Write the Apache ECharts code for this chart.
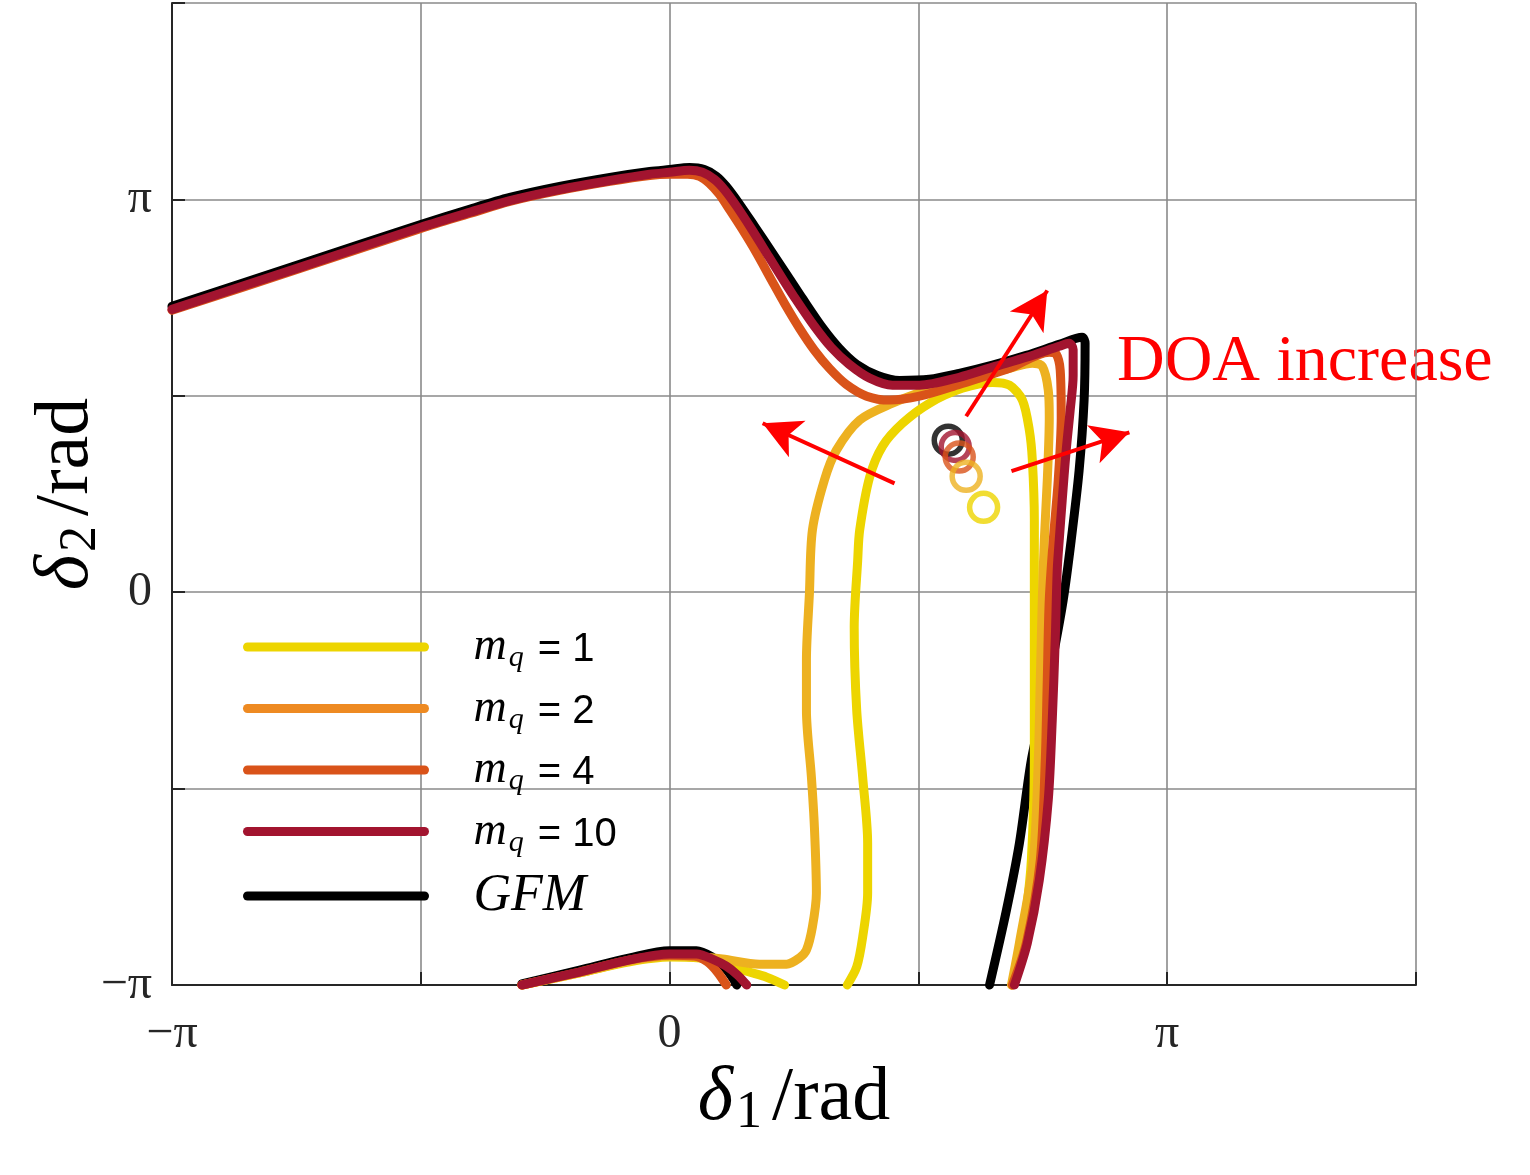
<!DOCTYPE html>
<html>
<head>
<meta charset="utf-8">
<script src="https://cdn.jsdelivr.net/npm/echarts@6/dist/echarts.min.js"></script>
<style>
html, body { margin: 0; padding: 0; background: #fff; }
#chart { width: 1530px; height: 1175px; }
</style>
</head>
<body>
<div id="chart"></div>
<script>
// all values in units of pi: [delta1/pi, delta2/pi]
var blackTop = [[-1.000,0.728],[-0.743,0.835],[-0.500,0.936],[-0.402,0.975],[-0.321,1.005],[-0.221,1.033],[-0.120,1.056],[-0.040,1.071],[0,1.076],[0.040,1.081],[0.070,1.076],[0.094,1.059],[0.114,1.033],[0.141,0.987],[0.171,0.931],[0.207,0.863],[0.239,0.802],[0.267,0.748],[0.307,0.674],[0.341,0.621],[0.376,0.580],[0.418,0.552],[0.462,0.539],[0.522,0.542],[0.582,0.557],[0.649,0.578],[0.717,0.603],[0.783,0.631],[0.829,0.649],[0.835,0.634],[0.833,0.489],[0.823,0.310],[0.807,0.132],[0.791,-0.020],[0.773,-0.148],[0.753,-0.275],[0.727,-0.427],[0.703,-0.639],[0.677,-0.809],[0.643,-1.000]];
var blackBottom = [[-0.297,-0.997],[-0.181,-0.962],[-0.080,-0.931],[0,-0.913],[0.054,-0.913],[0.086,-0.929],[0.108,-0.952],[0.124,-0.977],[0.135,-1.0]];

var yellowBottom = [[-0.297,-1.0],[-0.181,-0.969],[-0.080,-0.941],[0,-0.929],[0.060,-0.931],[0.106,-0.939],[0.147,-0.962],[0.195,-0.980],[0.231,-1.0]];
var yellowLoop = [[0.357,-1.0],[0.376,-0.954],[0.388,-0.878],[0.398,-0.766],[0.398,-0.639],[0.388,-0.471],[0.376,-0.300],[0.371,-0.089],[0.378,0.081],[0.382,0.158],[0.402,0.293],[0.428,0.372],[0.468,0.430],[0.522,0.481],[0.588,0.519],[0.649,0.534],[0.683,0.527],[0.709,0.489],[0.723,0.412],[0.729,0.336],[0.733,0.183],[0.733,-0.173],[0.733,-0.427],[0.727,-0.682],[0.717,-0.809],[0.703,-0.919],[0.689,-1.0]];

var orangeMain = [[-0.297,-1.0],[-0.181,-0.969],[-0.080,-0.939],[0,-0.926],[0.060,-0.929],[0.106,-0.934],[0.181,-0.947],[0.235,-0.947],[0.261,-0.931],[0.275,-0.911],[0.287,-0.852],[0.295,-0.766],[0.291,-0.598],[0.285,-0.471],[0.275,-0.300],[0.275,-0.173],[0.281,-0.003],[0.287,0.158],[0.311,0.285],[0.335,0.361],[0.382,0.438],[0.448,0.481],[0.516,0.514],[0.582,0.539],[0.683,0.570],[0.729,0.583],[0.749,0.575],[0.761,0.514],[0.763,0.445],[0.759,0.285],[0.753,0.132],[0.749,-0.020],[0.745,-0.224],[0.741,-0.427],[0.731,-0.682],[0.703,-0.893],[0.687,-1.0]];

var dorangeTop = [[-1.000,0.718],[-0.743,0.824],[-0.500,0.926],[-0.402,0.964],[-0.321,0.995],[-0.221,1.023],[-0.120,1.046],[-0.040,1.061],[0,1.064],[0.036,1.064],[0.060,1.059],[0.080,1.041],[0.100,1.013],[0.120,0.975],[0.145,0.926],[0.175,0.863],[0.205,0.794],[0.231,0.735],[0.261,0.672],[0.291,0.616],[0.321,0.570],[0.355,0.529],[0.396,0.499],[0.442,0.489],[0.502,0.499],[0.582,0.529],[0.683,0.570],[0.763,0.611],[0.777,0.606],[0.785,0.565],[0.787,0.445],[0.781,0.285],[0.771,0.132],[0.763,-0.020],[0.759,-0.224],[0.755,-0.427],[0.745,-0.682],[0.717,-0.893],[0.689,-1.000]];
var dorangeBottom = [[-0.297,-1.0],[-0.181,-0.967],[-0.080,-0.936],[0,-0.924],[0.050,-0.926],[0.076,-0.941],[0.096,-0.967],[0.114,-1.0]];

var crimsonTop = [[-1.000,0.720],[-0.743,0.827],[-0.500,0.929],[-0.402,0.967],[-0.321,0.997],[-0.221,1.025],[-0.120,1.048],[-0.040,1.064],[0,1.069],[0.040,1.074],[0.066,1.069],[0.090,1.051],[0.110,1.025],[0.135,0.982],[0.165,0.924],[0.199,0.855],[0.229,0.794],[0.255,0.743],[0.291,0.677],[0.325,0.623],[0.361,0.580],[0.402,0.545],[0.448,0.527],[0.502,0.527],[0.582,0.547],[0.649,0.573],[0.717,0.598],[0.783,0.626],[0.803,0.634],[0.811,0.618],[0.811,0.552],[0.805,0.463],[0.797,0.361],[0.789,0.234],[0.783,0.132],[0.779,0.056],[0.775,-0.122],[0.769,-0.326],[0.761,-0.529],[0.743,-0.733],[0.719,-0.893],[0.693,-1.000]];
var crimsonBottom = [[-0.297,-1.0],[-0.181,-0.967],[-0.080,-0.936],[0,-0.921],[0.054,-0.921],[0.086,-0.934],[0.114,-0.952],[0.137,-0.975],[0.155,-1.0]];

// equilibrium points (hollow circles)
var eqNames = ['GFM', 'mq10', 'mq4', 'mq2', 'mq1'];
var eqPoints = [[0.560,0.387],[0.574,0.371],[0.582,0.344],[0.596,0.295],[0.631,0.216]];

// red arrows: [tail, head]
var arrows = [
    [[0.452,0.277],[0.187,0.430]],
    [[0.596,0.448],[0.759,0.768]],
    [[0.687,0.308],[0.924,0.407]]
];

var tickLabels = {'-1': '\u2212\u03c0', '0': '0', '1': '\u03c0'};

var colors = {mq1: '#EDD500', mq2: '#EDB120', mq4: '#D95319', mq10: '#A2142F', GFM: '#000000'};

var curves = [
    {name: 'GFM', segs: [blackTop, blackBottom]},
    {name: 'mq1', segs: [yellowBottom, yellowLoop]},
    {name: 'mq2', segs: [orangeMain]},
    {name: 'mq4', segs: [dorangeTop, dorangeBottom]},
    {name: 'mq10', segs: [crimsonTop, crimsonBottom]}
];

var legendText = {
    mq1: '{m|m}{q|q}{e|= 1}',
    mq2: '{m|m}{q|q}{e|= 2}',
    mq4: '{m|m}{q|q}{e|= 4}',
    mq10: '{m|m}{q|q}{e|= 10}',
    GFM: '{g|GFM}'
};

var serif = 'Liberation Serif';
var sans = 'Liberation Sans';

var series = [];
curves.forEach(function (c) {
    c.segs.forEach(function (seg) {
        series.push({
            type: 'line',
            name: c.name,
            data: seg,
            symbol: 'none',
            showSymbol: false,
            smooth: 0.3,
            clip: false,
            z: 2,
            itemStyle: {color: colors[c.name]},
            lineStyle: {color: colors[c.name], width: 9, cap: 'round', join: 'round'}
        });
    });
});

series.push({
    type: 'scatter',
    name: 'eq',
    symbol: 'circle',
    symbolSize: 28,
    z: 5,
    data: eqPoints.map(function (p, i) {
        return {value: p, itemStyle: {borderColor: colors[eqNames[i]]}};
    }),
    itemStyle: {color: 'rgba(0,0,0,0)', borderWidth: 5.5},
    markLine: {
        silent: true,
        symbol: ['none', 'arrow'],
        symbolSize: [30, 38],
        label: {show: false},
        lineStyle: {color: '#FF0000', width: 4, type: 'solid'},
        data: arrows.map(function (a) {
            return [{coord: a[0]}, {coord: a[1]}];
        })
    }
});

function axisCommon() {
    return {
        type: 'value',
        min: -1,
        max: 1.5,
        interval: 0.5,
        axisLine: {show: true, onZero: false, lineStyle: {color: '#262626', width: 2}},
        axisTick: {show: true, inside: true, length: 13, lineStyle: {color: '#262626', width: 2}},
        splitLine: {show: true, lineStyle: {color: '#8a8a8a', width: 1.6}},
        axisLabel: {
            fontFamily: serif,
            fontSize: 48,
            color: '#262626',
            showMaxLabel: true,
            formatter: function (v) {
                var k = String(Math.round(v * 2) / 2);
                return tickLabels[k] !== undefined ? tickLabels[k] : '';
            }
        },
        nameLocation: 'middle',
        nameMoveOverlap: false
    };
}

var nameRich = {
    d: {fontFamily: serif, fontStyle: 'italic', fontSize: 76, color: '#000'},
    s: {fontFamily: serif, fontSize: 52, padding: [28, 4, 0, 3], color: '#000'},
    r: {fontFamily: serif, fontSize: 76, padding: [0, 0, 0, 6], color: '#000'}
};

var xAxis = axisCommon();
xAxis.axisLabel.margin = 25;
xAxis.name = '{d|\u03b4}{s|1}{r|/rad}';
xAxis.nameGap = 74;
xAxis.nameTextStyle = {color: '#000', rich: nameRich};

var yAxis = axisCommon();
yAxis.axisLabel.margin = 20;
yAxis.name = '{d|\u03b4}{s|2}{r|/rad}';
yAxis.nameGap = 65;
yAxis.nameRotate = 90;
yAxis.nameTextStyle = {color: '#000', rich: nameRich};

var chart = echarts.init(document.getElementById('chart'), null, {renderer: 'canvas'});

chart.setOption({
    animation: false,
    backgroundColor: '#ffffff',
    grid: {left: 172, top: 3, right: 114, bottom: 190, containLabel: false},
    xAxis: xAxis,
    yAxis: yAxis,
    legend: {
        orient: 'vertical',
        left: 243,
        top: 624,
        padding: 0,
        itemWidth: 177,
        itemHeight: 14,
        itemGap: 12,
        selectedMode: false,
        itemStyle: {opacity: 0},
        lineStyle: {width: 9, cap: 'round', opacity: 1},
        data: [
            {name: 'mq1'},
            {name: 'mq2', lineStyle: {color: '#EE8A22'}},
            {name: 'mq4'},
            {name: 'mq10'},
            {name: 'GFM'}
        ],
        formatter: function (name) { return legendText[name]; },
        textStyle: {
            color: '#000',
            padding: [0, 0, 0, 44],
            rich: {
                m: {fontFamily: serif, fontStyle: 'italic', fontSize: 46, color: '#000'},
                q: {fontFamily: serif, fontStyle: 'italic', fontSize: 30, padding: [23, 0, 0, 2], color: '#000'},
                e: {fontFamily: sans, fontSize: 40, padding: [6, 0, 0, 14], color: '#000'},
                g: {fontFamily: serif, fontStyle: 'italic', fontSize: 52, color: '#000'}
            }
        }
    },
    graphic: [{
        type: 'text',
        left: 1117,
        top: 330,
        style: {
            text: 'DOA increase',
            fontFamily: serif,
            fontSize: 66,
            fill: '#FF0000'
        }
    }],
    series: series
});
</script>
</body>
</html>
